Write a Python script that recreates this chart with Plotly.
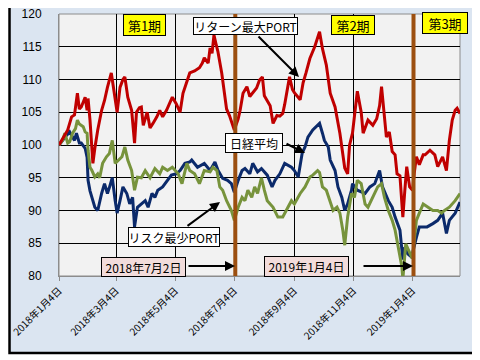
import pandas as pd
import plotly.graph_objects as go

START = "2018-01-04"

# リターン最大PORT (days from 2018-01-04, index value)
red_days = [0, 3, 6, 9, 13, 16, 19, 21, 23, 27, 29, 30, 32, 34, 35, 37, 40, 44, 47, 50,
            54, 55, 58, 60, 63, 66, 68, 71, 75, 76, 78, 80, 83, 85, 87, 91, 94, 97, 101, 104,
            107, 111, 114, 117, 121, 125, 128, 132, 135, 140, 145, 148, 150, 154, 156, 158, 160, 162, 164, 168,
            171, 173, 176, 178, 181, 185, 187, 190, 194, 197, 200, 204, 207, 210, 212, 218, 221, 225, 228, 231,
            233, 238, 241, 243, 249, 252, 255, 259, 264, 267, 269, 272, 276, 280, 285, 290, 295, 298, 300, 303,
            308, 312, 314, 319, 324, 328, 331, 333, 336, 338, 341, 344, 347, 349, 352, 355, 357, 359, 362, 365,
            367, 369, 372, 376, 378, 383, 388, 391, 396, 400, 403, 406, 409, 411, 414]
red_vals = [100.0, 100.7, 101.5, 102.3, 104.3, 104.6, 107.9, 105.5, 105.8, 107.3, 105.3, 107.1, 103.8, 100.3, 97.2, 99.5, 102.3, 105.3, 106.8, 108.8,
            111.0, 110.0, 107.0, 105.0, 108.8, 110.0, 110.4, 107.3, 105.3, 103.8, 100.3, 105.0, 105.7, 105.8, 103.0, 105.0, 102.6, 103.3, 104.3, 105.3,
            104.3, 105.3, 106.3, 107.3, 106.3, 105.0, 107.9, 109.5, 111.0, 111.3, 111.8, 112.5, 113.3, 112.5, 114.8, 114.0, 116.8, 115.5, 114.3, 111.0,
            108.0, 105.5, 104.5, 103.5, 102.3, 104.0, 105.3, 107.9, 108.9, 107.4, 107.9, 108.7, 109.9, 110.4, 107.5, 106.0, 103.3, 104.5, 104.4, 104.8,
            106.2, 110.4, 108.5, 108.0, 106.9, 109.5, 111.0, 113.2, 115.0, 116.5, 117.3, 114.7, 112.2, 107.9, 105.8, 101.8, 96.5, 95.6, 100.0, 101.8,
            108.2, 105.0, 101.8, 103.8, 103.0, 104.0, 106.0, 108.9, 104.0, 101.2, 102.0, 99.0, 98.5, 95.6, 95.3, 89.0, 93.0, 96.7, 93.6, 93.1,
            96.0, 98.2, 97.0, 98.5, 98.5, 99.2, 98.5, 96.7, 98.2, 96.1, 100.7, 103.8, 105.3, 105.6, 104.8]

# 日経平均
blue_days = [0, 4, 8, 11, 14, 16, 18, 21, 23, 27, 29, 30, 32, 35, 37, 40, 42, 44, 47, 50,
             52, 55, 58, 60, 63, 66, 70, 73, 76, 78, 81, 85, 89, 92, 96, 99, 102, 107, 112, 116,
             121, 125, 130, 135, 137, 143, 150, 156, 161, 164, 169, 174, 178, 181, 185, 189, 192, 197, 200, 205,
             209, 215, 220, 223, 228, 233, 240, 243, 247, 251, 254, 257, 262, 267, 269, 272, 274, 278, 280, 285,
             288, 292, 295, 298, 302, 303, 308, 316, 321, 326, 331, 334, 340, 344, 347, 352, 355, 357, 360, 364,
             365, 369, 372, 380, 386, 391, 396, 400, 403, 409, 414]
blue_vals = [100.0, 100.8, 101.5, 102.0, 101.2, 100.7, 101.8, 100.3, 100.3, 99.5, 98.1, 94.6, 93.0, 91.5, 90.5, 90.0, 91.5, 92.6, 94.1, 92.6,
             93.5, 95.0, 91.5, 89.6, 91.5, 93.6, 92.6, 91.0, 92.0, 87.5, 90.5, 91.0, 91.5, 90.5, 92.6, 92.0, 93.1, 93.6, 94.6, 95.4,
             95.6, 96.1, 97.2, 97.4, 97.7, 96.6, 97.2, 96.1, 97.4, 96.2, 94.9, 94.6, 94.1, 92.8, 94.6, 96.1, 96.4, 95.6, 97.2, 95.9,
             96.4, 95.4, 93.6, 94.6, 95.6, 97.2, 96.6, 96.1, 95.1, 98.7, 99.7, 101.2, 102.3, 103.0, 103.3, 101.8, 100.7, 99.7, 97.7, 96.1,
             93.6, 92.0, 90.0, 91.0, 93.1, 94.1, 93.1, 92.6, 93.6, 94.1, 96.1, 93.6, 91.5, 90.5, 89.0, 87.0, 82.5, 84.4, 83.4, 82.9,
             83.6, 85.9, 87.5, 87.5, 88.0, 88.5, 89.6, 86.5, 88.5, 89.6, 91.3]

# リスク最少PORT
green_days = [0, 4, 6, 9, 11, 14, 17, 19, 21, 25, 27, 29, 30, 32, 34, 37, 40, 42, 45, 49,
              52, 55, 58, 61, 65, 68, 71, 75, 78, 81, 85, 89, 94, 99, 104, 107, 112, 117, 123, 127,
              132, 135, 140, 145, 150, 156, 159, 163, 166, 169, 173, 178, 181, 185, 189, 192, 195, 199, 202, 205,
              209, 212, 215, 221, 226, 231, 236, 240, 243, 249, 254, 259, 262, 267, 269, 272, 276, 280, 283, 287,
              290, 293, 295, 298, 302, 305, 308, 312, 316, 319, 324, 329, 333, 336, 340, 344, 347, 350, 354, 355,
              358, 361, 364, 365, 369, 372, 376, 381, 386, 391, 395, 398, 403, 409, 414]
green_vals = [100.0, 100.8, 101.8, 100.3, 100.5, 101.8, 102.5, 103.8, 103.2, 102.8, 102.0, 101.8, 99.2, 96.6, 96.1, 95.1, 95.6, 95.0, 97.2, 98.2,
              98.7, 100.7, 97.2, 97.7, 98.2, 99.7, 97.7, 96.1, 93.1, 95.1, 95.0, 96.1, 95.0, 96.4, 95.6, 96.6, 96.1, 96.6, 95.6, 94.1,
              97.2, 96.1, 95.6, 94.1, 96.1, 95.9, 96.6, 96.1, 93.6, 93.1, 91.5, 90.0, 88.5, 90.5, 92.0, 91.5, 93.1, 92.0, 93.6, 92.6,
              95.0, 93.1, 91.5, 90.5, 89.0, 89.0, 90.5, 91.5, 91.0, 92.6, 93.6, 95.1, 95.4, 96.1, 95.8, 93.6, 93.1, 91.5, 90.0, 90.5,
              89.6, 87.0, 84.7, 89.0, 92.6, 92.0, 94.6, 94.1, 91.0, 90.5, 92.0, 93.6, 94.1, 92.0, 90.0, 88.5, 87.0, 84.4, 81.4, 79.5,
              84.9, 83.9, 82.9, 83.0, 88.5, 89.6, 91.0, 90.5, 90.0, 90.0, 89.6, 90.0, 90.5, 91.5, 92.6]

tick_dates = ["2018-01-04", "2018-03-04", "2018-05-04", "2018-07-04", "2018-09-04", "2018-11-04", "2019-01-04"]
tick_text = ["2018年1月4日", "2018年3月4日", "2018年5月4日", "2018年7月4日", "2018年9月4日", "2018年11月4日", "2019年1月4日"]
period_lines = ["2018-07-05", "2019-01-05"]
x_range = ["2018-01-04", "2019-02-22"]


def to_dates(days):
    return pd.Timestamp(START) + pd.to_timedelta(days, unit="D")


fig = go.Figure()
fig.add_trace(go.Scatter(x=to_dates(blue_days), y=blue_vals, mode="lines",
                         line=dict(color="#0b2a6b", width=3), name="日経平均"))
fig.add_trace(go.Scatter(x=to_dates(green_days), y=green_vals, mode="lines",
                         line=dict(color="#77933c", width=3), name="リスク最少PORT"))
fig.add_trace(go.Scatter(x=to_dates(red_days), y=red_vals, mode="lines",
                         line=dict(color="#c00000", width=3), name="リターン最大PORT"))

shapes = [
    dict(type="rect", xref="paper", yref="paper", x0=-0.1234, x1=1.0349, y0=-0.2939, y1=1.0305,
         fillcolor="#dbe5f1", line=dict(color="black", width=2.5), layer="below"),
    dict(type="rect", xref="paper", yref="paper", x0=0, x1=1, y0=0, y1=1,
         fillcolor="#f2f2f2", line=dict(color="#8c8c8c", width=1), layer="below"),
]
for d in period_lines:
    shapes.append(dict(type="line", xref="x", yref="paper", x0=d, x1=d, y0=0, y1=1,
                       line=dict(color="#9c4f10", width=4), layer="above"))

JP = "Noto Sans CJK JP, Liberation Sans, sans-serif"
annotations = []


def box(text, xp, yp, w, h, bg, size=12):
    annotations.append(dict(text=text, xref="paper", yref="paper", x=xp, y=yp,
                            xanchor="center", yanchor="middle", showarrow=False,
                            width=w, height=h, bgcolor=bg, bordercolor="black",
                            borderwidth=1, borderpad=0, align="center", valign="middle",
                            font=dict(family=JP, size=size, color="black")))


def arrow(xp, yp, ax, ay):
    annotations.append(dict(text="", xref="paper", yref="paper", x=xp, y=yp,
                            ax=ax, ay=ay, showarrow=True, arrowhead=2, arrowsize=1,
                            arrowwidth=2, arrowcolor="black", standoff=0, startstandoff=0))


box("第1期", 0.2132, 0.958, 41, 20, "#ffff00", 13)
box("リターン最大PORT", 0.4663, 0.954, 103, 16, "white")
box("第2期", 0.733, 0.958, 42, 18, "#ffff00", 13)
box("第3期", 0.9626, 0.9656, 44, 20, "#ffff00", 13)
box("日経平均", 0.4863, 0.5076, 56, 18, "white")
box("リスク最少PORT", 0.2868, 0.1489, 90, 18, "white")
box("2018年7月2日", 0.2107, 0.0344, 83, 18, "#f2dcdb")
box("2019年1月4日", 0.6172, 0.0363, 83, 19, "#f2dcdb")

arrow(0.5985, 0.7595, -42, -42)
arrow(0.6135, 0.4695, -20, -10)
arrow(0.4015, 0.2824, -34, 25)
arrow(0.4389, 0.0382, -48, 0)
arrow(0.8828, 0.0382, -51, 0)

fig.update_layout(
    width=472, height=352,
    margin=dict(l=51, r=20, t=6, b=84, autoexpand=False),
    paper_bgcolor="white",
    plot_bgcolor="rgba(0,0,0,0)",
    showlegend=False,
    shapes=shapes,
    annotations=annotations,
    xaxis=dict(type="date", range=x_range, tickvals=tick_dates, ticktext=tick_text,
               tickangle=-45, showgrid=True, gridcolor="black", gridwidth=1,
               showline=True, linecolor="#8c8c8c", linewidth=1,
               ticks="outside", ticklen=4, tickcolor="#8c8c8c",
               ticklabeloverflow="allow",
               tickfont=dict(family=JP, size=10, color="black")),
    yaxis=dict(range=[80, 120], dtick=5, tick0=80, showgrid=True, gridcolor="black",
               gridwidth=1, showline=True, linecolor="#8c8c8c", linewidth=1,
               zeroline=False, ticks="", ticklabelstandoff=14,
               ticklabeloverflow="allow",
               tickfont=dict(family="Liberation Sans, Arial", size=12, color="black")),
)

fig.write_html("out.html")
